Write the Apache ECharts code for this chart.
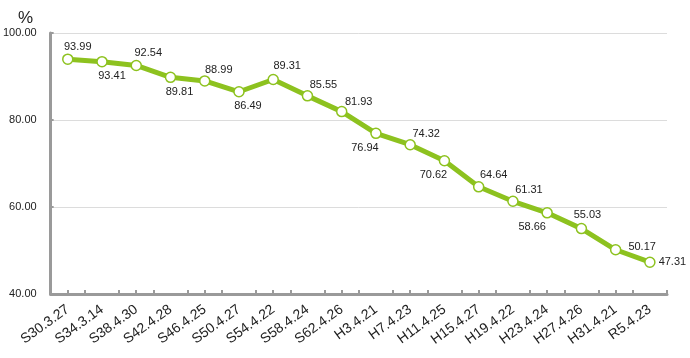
<!DOCTYPE html>
<html>
<head>
<meta charset="utf-8">
<script src="https://cdn.jsdelivr.net/npm/echarts@6/dist/echarts.min.js"></script>
<style>
html,body{margin:0;padding:0;background:#fff;}
#chart{width:690px;height:358px;}
</style>
</head>
<body>
<div id="chart"></div>
<script>
var categories = ["S30.3.27","S34.3.14","S38.4.30","S42.4.28","S46.4.25","S50.4.27","S54.4.22","S58.4.24","S62.4.26","H3.4.21","H7.4.23","H11.4.25","H15.4.27","H19.4.22","H23.4.24","H27.4.26","H31.4.21","R5.4.23"];
var values = [93.99,93.41,92.54,89.81,88.99,86.49,89.31,85.55,81.93,76.94,74.32,70.62,64.64,61.31,58.66,55.03,50.17,47.31];
var yTicks = [40, 60, 80, 100];

// label placement styling (position, offset x, offset y)
var labelStyle = [
  ['top',10,2],['bottom',10,0],['top',12,2],['bottom',9,0],['top',14,3],['bottom',9,0],
  ['top',14,1],['top',16,3],['top',17,5],['bottom',-11,0],['top',16,4],['bottom',-11,0],
  ['top',15,2],['top',16,3],['bottom',-15,0],['top',6,1],['right',4,-3],['right',0,0]
];

var green = '#8dc21f';
var seriesData = values.map(function(v,i){
  var s = labelStyle[i];
  return {value:v, label:{position:s[0], offset:[s[1],s[2]]}};
});

var chart = echarts.init(document.getElementById('chart'));
chart.setOption({
  animation:false,
  textStyle:{fontFamily:'"Liberation Sans", Arial, sans-serif'},
  title:{text:'%', left:13, top:5, textStyle:{fontSize:17, fontWeight:'normal', color:'#222'}},
  grid:{left:48, right:23, top:33, bottom:64},
  xAxis:[{
    type:'category', data:categories, boundaryGap:true,
    axisLine:{lineStyle:{color:'#9a9a9a', width:3}},
    axisTick:{show:true, inside:true, length:4, alignWithLabel:false, lineStyle:{color:'#9a9a9a', width:2}},
    axisLabel:{rotate:36, fontSize:14, color:'#222', margin:14, interval:0}
  },{
    type:'category', data:categories, boundaryGap:true, position:'bottom',
    axisLine:{show:false},
    axisTick:{show:true, inside:true, length:4, alignWithLabel:true, lineStyle:{color:'#9a9a9a', width:2}},
    axisLabel:{show:false}
  }],
  yAxis:{
    type:'value', min:yTicks[0], max:yTicks[yTicks.length-1], interval:20,
    axisLine:{show:true, lineStyle:{color:'#9a9a9a', width:3}},
    axisTick:{show:true, inside:true, length:3, lineStyle:{color:'#9a9a9a', width:2}},
    axisLabel:{fontSize:11, color:'#222', margin:14, formatter:function(v){return v.toFixed(2);}},
    splitLine:{show:true, lineStyle:{color:'#dcdcdc', width:1}}
  },
  series:[{
    type:'line', xAxisIndex:0, data:seriesData,
    symbol:'circle', symbolSize:10,
    lineStyle:{color:green, width:5},
    itemStyle:{color:'#fff', borderColor:green, borderWidth:1.5},
    label:{show:true, fontSize:11, color:'#222', distance:3, formatter:function(p){return p.value.toFixed(2);}},
    z:3
  }]
});
</script>
</body>
</html>
